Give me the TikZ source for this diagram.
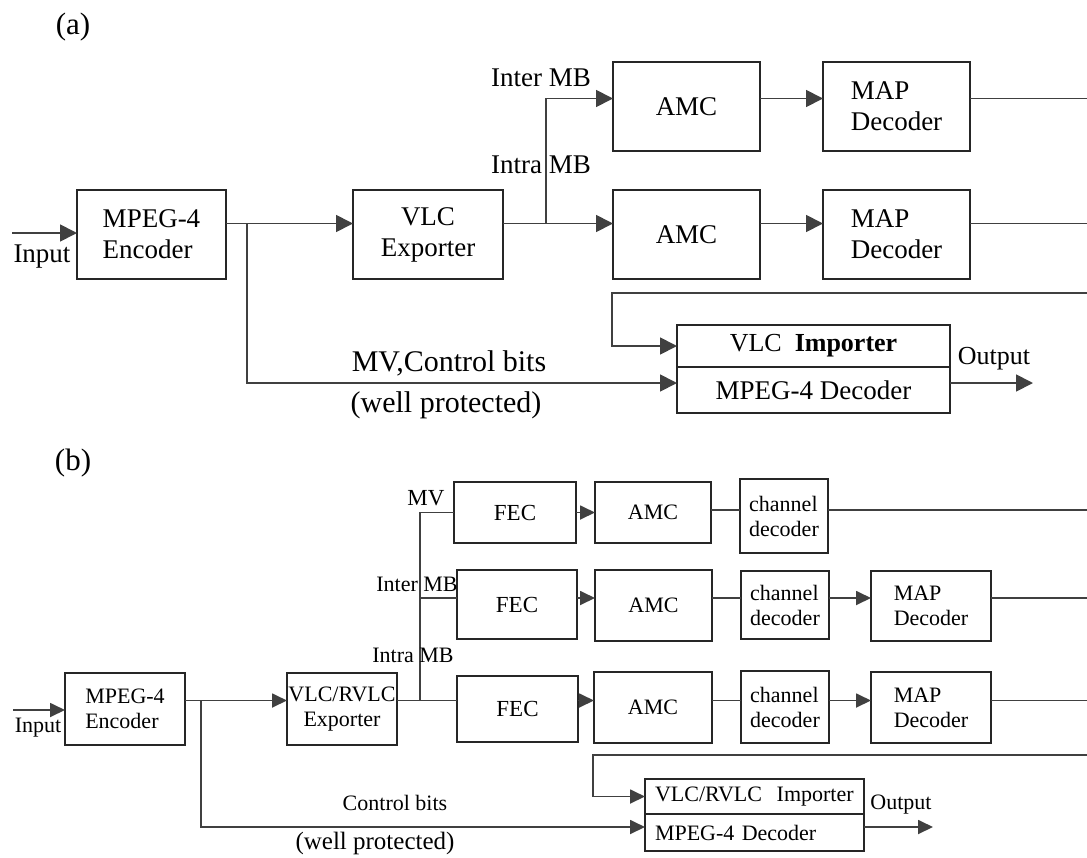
\documentclass[tikz,border=0pt]{standalone}
\usepackage{fontspec}
\setmainfont{Liberation Serif}
\usetikzlibrary{arrows.meta}
\newcommand\sizeA{\fontsize{27}{31}\selectfont}
\newcommand\sizeB{\fontsize{22}{25}\selectfont}
\newcommand\sizeT{\fontsize{31}{35}\selectfont}
\newcommand\sizeM{\fontsize{30}{34}\selectfont}
\tikzset{
  box/.style={draw=black!85, line width=2pt, inner sep=0pt, outer sep=0pt, align=center},
  boxA/.style={box, font=\sizeA},
  boxB/.style={box, font=\sizeB},
  conn/.style={draw=black!75, line width=1.8pt},
  arrA/.style={conn, -{Triangle[length=17pt,width=17pt]}},
  arrB/.style={conn, -{Triangle[length=15pt,width=14pt]}},
  lab/.style={inner sep=0pt},
}
\begin{document}
\begin{tikzpicture}[x=1pt, y=-1pt]
\useasboundingbox (0,0) rectangle (1087,857);

% ---------------- (a) ----------------
\node[lab, font=\sizeT] (tagA) at (73,27) {(a)};

\node[boxA, minimum width=149pt, minimum height=89pt, align=left] (encA) at (151.5,234.5) {MPEG-4\\Encoder};
\node[boxA, minimum width=150pt, minimum height=89pt] (vlcA) at (428,234.5) {VLC\\Exporter};
\node[boxA, minimum width=147pt, minimum height=89pt] (amcA1) at (686.5,106.5) {AMC};
\node[boxA, minimum width=147pt, minimum height=89pt, align=left] (mapA1) at (896.5,106.5) {MAP\\Decoder};
\node[boxA, minimum width=147pt, minimum height=89pt] (amcA2) at (686.5,234.5) {AMC};
\node[boxA, minimum width=147pt, minimum height=89pt, align=left] (mapA2) at (896.5,234.5) {MAP\\Decoder};
\node[boxA, font=\fontsize{26}{30}\selectfont, minimum width=273pt, minimum height=42pt] (impA) at (813.5,346) {VLC\ \ \textbf{Importer}};
\node[boxA, minimum width=273pt, minimum height=46pt] (decA) at (813.5,390) {MPEG-4 Decoder};

% row levels
\coordinate (ya1) at (0,98.5);
\coordinate (ya2) at (0,223.5);
\coordinate (ya3) at (0,383);
\coordinate (yfa) at (0,293);

\coordinate (inA) at (12,233);
\draw[arrA] (inA) -- (inA -| encA.west);
\node[lab, font=\sizeA] (inputA) at (42,257) {Input};

\draw[arrA] (encA.east |- ya2) -- (vlcA.west |- ya2);
\coordinate (brA) at (247,223.5);
\draw[arrA] (brA) -- (brA |- ya3) -- (decA.west |- ya3);

\coordinate (jA) at (546,223.5);
\draw[arrA] (vlcA.east |- ya2) -- (amcA2.west |- ya2);
\draw[arrA] (jA) -- (jA |- ya1) -- (amcA1.west |- ya1);
\draw[arrA] (amcA1.east |- ya1) -- (mapA1.west |- ya1);
\draw[arrA] (amcA2.east |- ya2) -- (mapA2.west |- ya2);

\coordinate (eA1) at (1087,98.5);
\coordinate (eA2) at (1087,223.5);
\draw[conn] (mapA1.east |- ya1) -- (eA1);
\draw[conn] (mapA2.east |- ya2) -- (eA2);

\coordinate (fbA) at (1087,293);
\coordinate (fbA2) at (612,293);
\draw[arrA] (fbA) -- (fbA2) |- (impA.west);

\coordinate (outA) at (1033,383);
\draw[arrA] (decA.east |- ya3) -- (outA);
\node[lab, font=\fontsize{26}{30}\selectfont] (outLabA) at (994,359) {Output};

\node[lab, font=\sizeA] (interA) at (541,78) {Inter MB};
\node[lab, font=\sizeA] (intraA) at (541,165) {Intra MB};
\node[lab, font=\sizeM] (mvA) at (449,363) {MV,Control bits};
\node[lab, font=\sizeM] (wellA) at (446,405) {(well protected)};

% ---------------- (b) ----------------
\node[lab, font=\sizeT] (tagB) at (73,463) {(b)};

\node[boxB, minimum width=120pt, minimum height=72pt, align=left] (encB) at (125,709) {MPEG-4\\Encoder};
\node[boxB, minimum width=110pt, minimum height=72pt] (vlcB) at (342,709) {VLC/RVLC\\Exporter};

\node[boxB, font=\fontsize{23}{26}\selectfont, minimum width=122pt, minimum height=61pt] (fec1) at (515,512.5) {FEC};
\node[boxB, minimum width=116pt, minimum height=61pt] (amc1) at (653,512.5) {AMC};
\node[boxB, minimum width=88pt, minimum height=74pt, align=left] (ch1) at (784,516) {channel\\decoder};

\node[boxB, font=\fontsize{23}{26}\selectfont, minimum width=120pt, minimum height=69pt] (fec2) at (517,604.5) {FEC};
\node[boxB, minimum width=117pt, minimum height=71pt] (amc2) at (653.5,605.5) {AMC};
\node[boxB, minimum width=88pt, minimum height=68pt, align=left] (ch2) at (785,605) {channel\\decoder};
\node[boxB, minimum width=120pt, minimum height=70pt, align=left] (map2) at (931,606) {MAP\\Decoder};

\node[boxB, font=\fontsize{23}{26}\selectfont, minimum width=121pt, minimum height=66pt] (fec3) at (517.5,709) {FEC};
\node[boxB, minimum width=118pt, minimum height=71pt] (amc3) at (653,707.5) {AMC};
\node[boxB, minimum width=88pt, minimum height=72pt, align=left] (ch3) at (785,707) {channel\\decoder};
\node[boxB, minimum width=120pt, minimum height=71pt, align=left] (map3) at (931,707.5) {MAP\\Decoder};

\node[boxB, text width=199pt, inner xsep=10pt, minimum height=35pt, align=left] (impB) at (754.5,796.5) {VLC/RVLC\ \ Importer};
\node[boxB, text width=199pt, inner xsep=10pt, minimum height=37pt, align=left] (decB) at (754.5,832.5) {MPEG-4 Decoder};

% row levels
\coordinate (yb1) at (0,512.5);
\coordinate (yb1c) at (0,510);
\coordinate (yb2) at (0,598);
\coordinate (yb3) at (0,700.5);
\coordinate (yb4) at (0,827);
\coordinate (yinB) at (0,710);

\coordinate (inB) at (13,710);
\draw[arrB] (inB) -- (encB.west |- yinB);
\node[lab, font=\sizeB] (inputB) at (38,728) {Input};

\draw[arrB] (encB.east |- yb3) -- (vlcB.west |- yb3);
\coordinate (brB) at (201,700.5);
\draw[arrB] (brB) -- (brB |- yb4) -- (decB.west |- yb4);

\coordinate (jB) at (420,700.5);
\draw[conn] (vlcB.east |- yb3) -- (fec3.west |- yb3);
\draw[conn] (jB) -- (jB |- yb1) -- (fec1.west |- yb1);
\draw[conn] (jB |- yb2) -- (fec2.west |- yb2);

\draw[arrB] (fec1.east |- yb1) -- (amc1.west |- yb1);
\draw[conn] (amc1.east |- yb1c) -- (ch1.west |- yb1c);
\coordinate (eB1) at (1087,510);
\draw[conn] (ch1.east |- yb1c) -- (eB1);

\draw[arrB] (fec2.east |- yb2) -- (amc2.west |- yb2);
\draw[conn] (amc2.east |- yb2) -- (ch2.west |- yb2);
\draw[arrB] (ch2.east |- yb2) -- (map2.west |- yb2);
\coordinate (eB2) at (1087,598);
\draw[conn] (map2.east |- yb2) -- (eB2);

\draw[arrB] (fec3.east |- yb3) -- (amc3.west |- yb3);
\draw[conn] (amc3.east |- yb3) -- (ch3.west |- yb3);
\draw[arrB] (ch3.east |- yb3) -- (map3.west |- yb3);
\coordinate (eB3) at (1087,700.5);
\draw[conn] (map3.east |- yb3) -- (eB3);

\coordinate (fbB) at (1087,755);
\coordinate (fbB2) at (593,755);
\draw[arrB] (fbB) -- (fbB2) |- (impB.west);

\coordinate (outB) at (933,827);
\draw[arrB] (decB.east |- yb4) -- (outB);
\node[lab, font=\sizeB] (outLabB) at (901,805) {Output};

\node[lab, font=\fontsize{23}{26}\selectfont] (mvB) at (426,498) {MV};
\node[lab, font=\sizeB] (interB) at (417,584) {Inter MB};
\node[lab, font=\sizeB] (intraB) at (413,655) {Intra MB};
\node[lab, font=\sizeB] (ctrlB) at (395,803) {Control bits};
\node[lab, font=\fontsize{25}{28}\selectfont] (wellB) at (375,843) {(well protected)};
\end{tikzpicture}
\end{document}
